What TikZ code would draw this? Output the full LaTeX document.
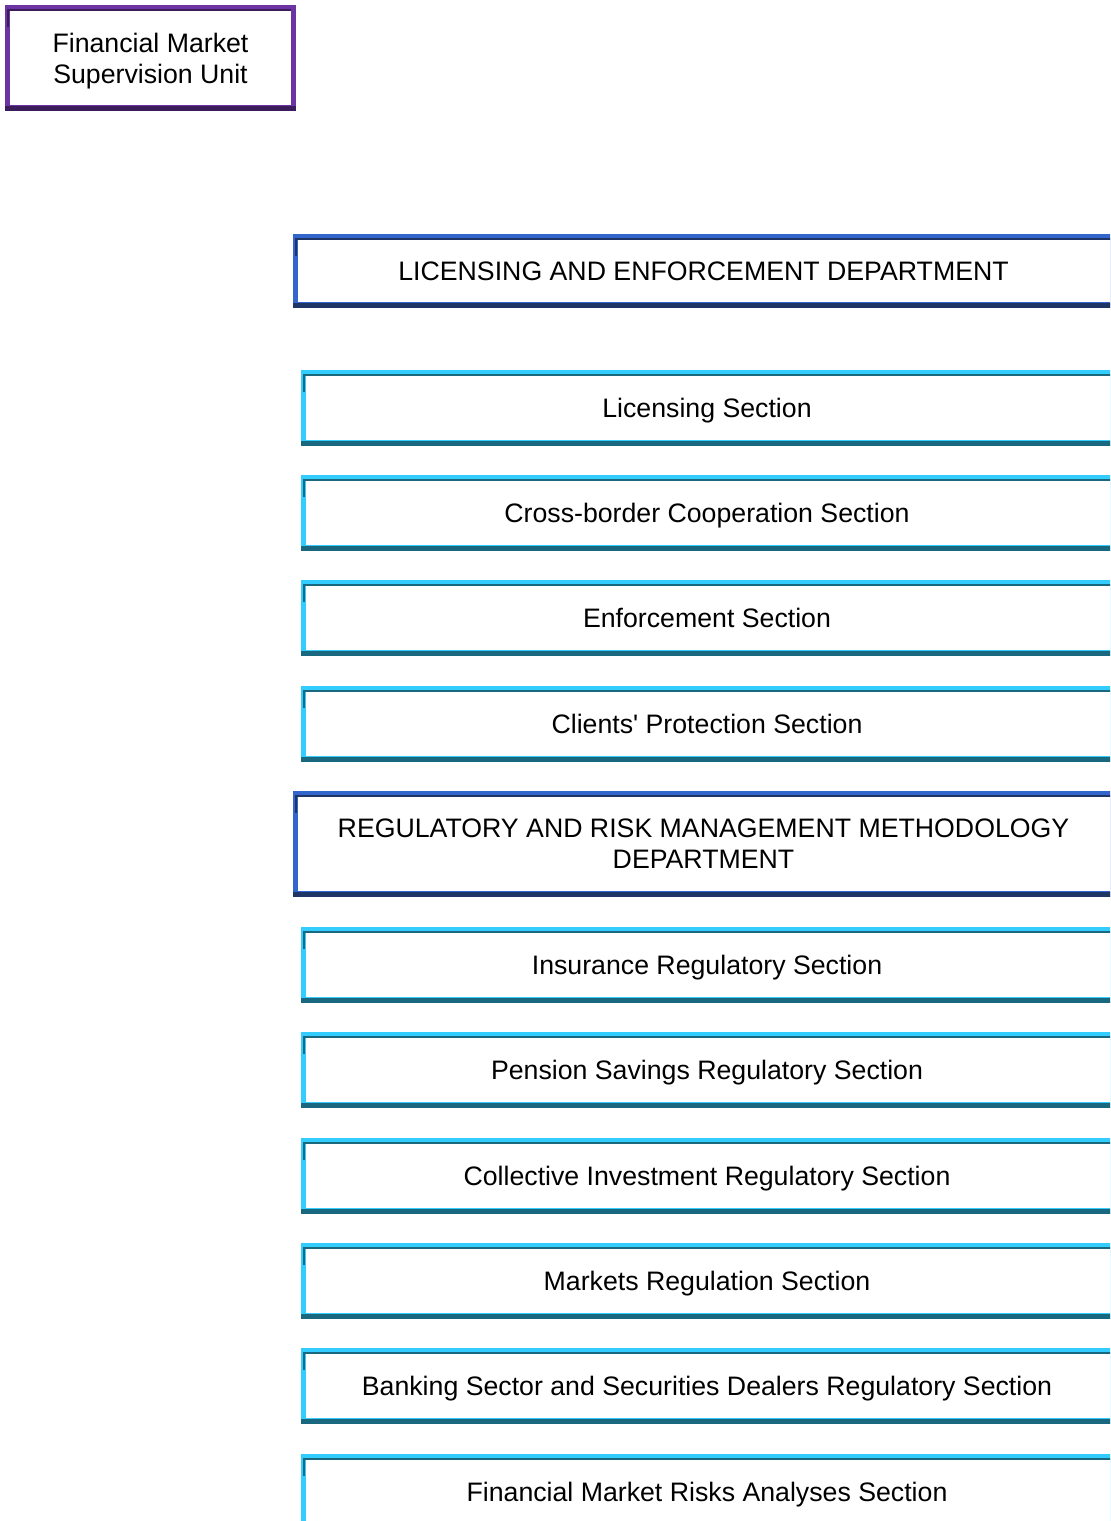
\documentclass[tikz,border=0pt]{standalone}
\usepackage{fontspec}
\setmainfont{Liberation Sans}
\usetikzlibrary{calc,backgrounds}
\definecolor{unitlight}{HTML}{6B34A2}
\definecolor{unitdark}{HTML}{3C1D5C}
\definecolor{deptlight}{HTML}{3366CC}
\definecolor{deptdark}{HTML}{1E3566}
\definecolor{seclight}{HTML}{33CCFF}
\definecolor{secdark}{HTML}{1A6880}
\tikzset{
  orgbox/.style={rectangle, inner sep=0pt, align=center, text=black,
    text depth=0pt, font=\fontsize{15.2}{17.6}\selectfont},
  unitbox/.style={orgbox, minimum width=5.82cm, minimum height=2.12cm},
  deptbox/.style={orgbox, minimum width=16.42cm},
  secbox/.style={orgbox, minimum width=16.24cm, minimum height=1.52cm}
}

\begin{document}
\begin{tikzpicture}[x=0.02cm, y=-0.02cm]
  \useasboundingbox (0,0) rectangle (1110,1521);
  \clip (0,0) rectangle (1110,1521);

  \node[unitbox] (unit) at (150.5,58) {Financial Market\\Supervision Unit};

  \node[deptbox, minimum height=1.48cm] (licdept) at (703.5,271)
    {LICENSING AND ENFORCEMENT DEPARTMENT};
  \node[secbox] (licsec)   at (707,408) {Licensing Section};
  \node[secbox] (crosssec) at (707,513) {Cross-border Cooperation Section};
  \node[secbox] (enfsec)   at (707,618) {Enforcement Section};
  \node[secbox] (clisec)   at (707,724) {Clients\textquotesingle\ Protection Section};

  \node[deptbox, minimum height=2.12cm] (regdept) at (703.5,844)
    {REGULATORY AND RISK MANAGEMENT METHODOLOGY\\DEPARTMENT};
  \node[secbox] (inssec)  at (707,965)  {Insurance Regulatory Section};
  \node[secbox] (pensec)  at (707,1070) {Pension Savings Regulatory Section};
  \node[secbox] (colsec)  at (707,1176) {Collective Investment Regulatory Section};
  \node[secbox] (marksec) at (707,1281) {Markets Regulation Section};
  \node[secbox] (banksec) at (707,1386) {Banking Sector and Securities Dealers Regulatory Section};
  \node[secbox] (risksec) at (707,1492) {Financial Market Risks Analyses Section};

  % shaded frames behind the texts (right side runs off the page)
  \begin{scope}[on background layer]
    \clip (0,0) rectangle (1110,1521);
    \foreach \n/\lc/\dc/\rb in {unit/unitlight/unitdark/5,
        licdept/deptlight/deptdark/-10, regdept/deptlight/deptdark/-10,
        licsec/seclight/secdark/-10, crosssec/seclight/secdark/-10,
        enfsec/seclight/secdark/-10, clisec/seclight/secdark/-10,
        inssec/seclight/secdark/-10, pensec/seclight/secdark/-10,
        colsec/seclight/secdark/-10, marksec/seclight/secdark/-10,
        banksec/seclight/secdark/-10, risksec/seclight/secdark/-10} {
      \fill[\lc] (\n.north west) rectangle (\n.south east);
      \fill[white] ($(\n.north west)+(5,6)$) rectangle ($(\n.south east)+(-\rb,-6)$);
      \fill[\dc] ($(\n.north west)+(2,4)$) rectangle ($(\n.north east)+(-\rb,6)$);
      \fill[\dc] ($(\n.north west)+(2,4)$) rectangle ($(\n.north west)+(4,22)$);
      \fill[\dc] ($(\n.south west)+(0,-5)$) rectangle (\n.south east);
    }
  \end{scope}
\end{tikzpicture}
\end{document}
